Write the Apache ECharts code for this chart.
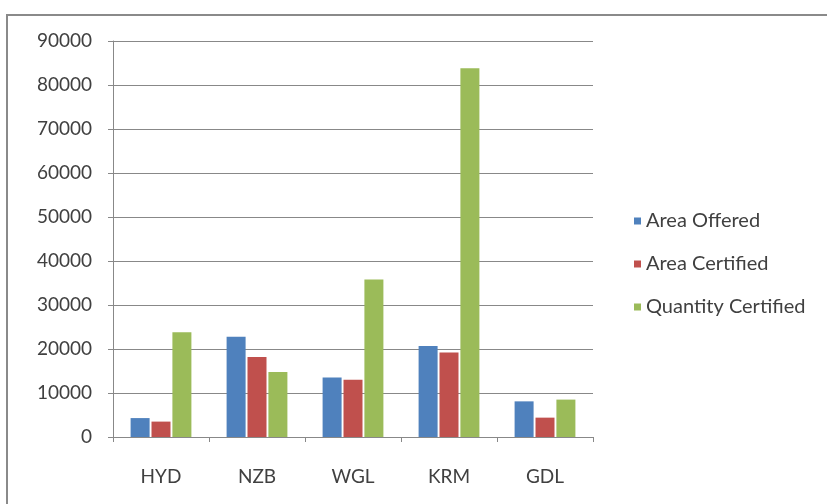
<!DOCTYPE html>
<html><head><meta charset="utf-8">
<script src="https://cdn.jsdelivr.net/npm/echarts@6/dist/echarts.min.js"></script>
<style>html,body{margin:0;padding:0;background:#fff}#c{width:827px;height:504px}</style>
</head><body><div id="c"></div>
<script>
const categories = ['HYD', 'NZB', 'WGL', 'KRM', 'GDL'];
const areaOffered = [4300, 22800, 13500, 20700, 8100];
const areaCertified = [3500, 18200, 13000, 19200, 4400];
const quantityCertified = [23800, 14800, 35800, 83800, 8500];
const seriesNames = ['Area Offered', 'Area Certified', 'Quantity Certified'];
const colors = ['#4F81BD', '#C0504D', '#9BBB59'];

const chart = echarts.init(document.getElementById('c'), null, {renderer: 'canvas'});
const font = 'Lato, "Open Sans", sans-serif';
const mk = (name, data, i) => ({
  name, type: 'bar', data, barWidth: 19, barGap: '10%',
  itemStyle: {color: colors[i]}
});
chart.setOption({
  animation: false,
  graphic: [{type: 'rect', shape: {x: 7, y: 15, width: 840, height: 520},
    style: {fill: 'none', stroke: '#8a8a8a', lineWidth: 2}, silent: true}],
  grid: {left: 113, right: 234, top: 41, bottom: 67},
  legend: {
    orient: 'vertical', left: 629, top: 206, itemGap: 23,
    icon: 'rect', itemWidth: 7, itemHeight: 7,
    textStyle: {fontFamily: font, fontSize: 20, color: '#404040'},
    data: seriesNames
  },
  xAxis: {
    type: 'category', data: categories, boundaryGap: true,
    axisLine: {lineStyle: {color: '#888', width: 1}},
    axisTick: {show: true, length: 5, lineStyle: {color: '#888'}},
    axisLabel: {fontFamily: font, fontSize: 19, color: '#404040', margin: 30}
  },
  yAxis: {
    type: 'value', min: 0, max: 90000, interval: 10000,
    axisLine: {show: true, lineStyle: {color: '#888'}},
    axisTick: {show: true, length: 5, lineStyle: {color: '#888'}},
    splitLine: {lineStyle: {color: '#888', width: 1}},
    axisLabel: {fontFamily: font, fontSize: 19, color: '#404040', margin: 21,
      formatter: v => String(v)}
  },
  series: [mk(seriesNames[0], areaOffered, 0), mk(seriesNames[1], areaCertified, 1), mk(seriesNames[2], quantityCertified, 2)]
});
</script></body></html>
